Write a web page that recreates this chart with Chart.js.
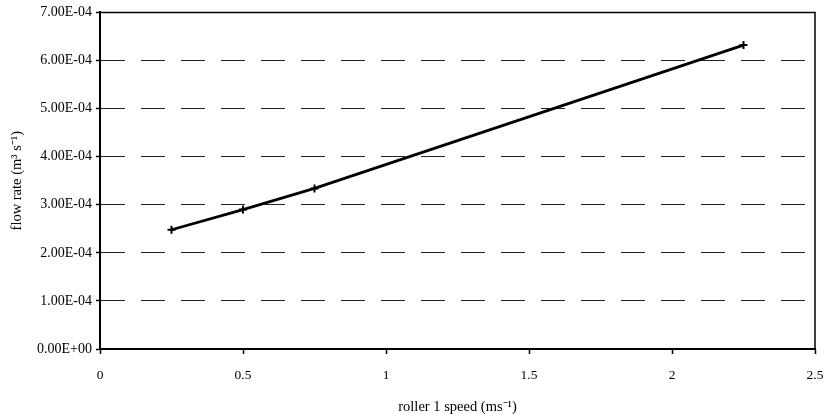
<!DOCTYPE html>
<html>
<head>
<meta charset="utf-8">
<script src="https://cdn.jsdelivr.net/npm/chart.js@4.4.1/dist/chart.umd.min.js"></script>
<style>
  html, body { margin: 0; padding: 0; background: #fff; }
  #wrap { width: 834px; height: 414px; }
</style>
</head>
<body>
<div id="wrap"><canvas id="c" width="834" height="414"></canvas></div>
<script>
// Data
const speeds = [0.25, 0.5, 0.75, 2.25];
const flowRates = [2.48e-4, 2.90e-4, 3.34e-4, 6.32e-4];
const xTickValues = [0, 0.5, 1, 1.5, 2, 2.5];
const xTickLabels = ['0', '0.5', '1', '1.5', '2', '2.5'];
const yTickValues = [0, 1e-4, 2e-4, 3e-4, 4e-4, 5e-4, 6e-4, 7e-4];
const yTickLabels = ['0.00E+00', '1.00E-04', '2.00E-04', '3.00E-04', '4.00E-04', '5.00E-04', '6.00E-04', '7.00E-04'];
const xTitle = 'roller 1 speed (ms\u207B\u00B9)';
const yTitle = 'flow rate (m\u00B3 s\u207B\u00B9)';

const points = speeds.map((s, i) => ({ x: s, y: flowRates[i] }));

function labelFor(values, labels, v) {
  for (let i = 0; i < values.length; i++) {
    if (Math.abs(values[i] - v) < 1e-9) return labels[i];
  }
  return '';
}

const frame = {
  id: 'frame',
  afterDraw(chart) {
    const { ctx, chartArea: a } = chart;
    ctx.save();
    ctx.strokeStyle = '#000';
    ctx.lineWidth = 1.5;
    ctx.beginPath();
    ctx.moveTo(a.left, a.top);
    ctx.lineTo(a.right, a.top);
    ctx.lineTo(a.right, a.bottom);
    ctx.stroke();
    ctx.restore();
  }
};

const fam = "'Liberation Serif', 'Times New Roman', serif";

new Chart(document.getElementById('c'), {
  type: 'scatter',
  data: {
    datasets: [{
      data: points,
      showLine: true,
      borderColor: '#000',
      borderWidth: 2.8,
      pointStyle: 'cross',
      pointRadius: 4,
      pointBorderWidth: 2,
      pointBorderColor: '#000',
      pointBackgroundColor: '#000',
      tension: 0
    }]
  },
  options: {
    responsive: false,
    animation: false,
    events: [],
    layout: { padding: { top: 12, right: 19, left: 0, bottom: 0 } },
    plugins: { legend: { display: false }, tooltip: { enabled: false } },
    scales: {
      x: {
        type: 'linear',
        min: 0, max: 2.5,
        afterBuildTicks: s => { s.ticks = xTickValues.map(v => ({ value: v })); },
        afterFit: s => { s.height = 65; s.paddingRight = 0; s.paddingLeft = 0; },
        ticks: {
          color: '#000', font: { family: fam, size: 13.5 }, padding: 13, maxRotation: 0,
          callback: v => labelFor(xTickValues, xTickLabels, v)
        },
        grid: { drawOnChartArea: false, drawTicks: true, tickLength: 5, tickColor: '#000', tickWidth: 1.5 },
        border: { display: true, color: '#000', width: 2 },
        title: { display: true, text: xTitle, color: '#000', font: { family: fam, size: 14.5, lineHeight: 1 }, padding: { top: 0, bottom: 0 } }
      },
      y: {
        type: 'linear',
        min: 0, max: 7e-4,
        afterBuildTicks: s => { s.ticks = yTickValues.map(v => ({ value: v })); },
        afterFit: s => { s.width = 100; },
        ticks: {
          color: '#000', font: { family: fam, size: 14 }, padding: 4,
          callback: v => labelFor(yTickValues, yTickLabels, v)
        },
        grid: { display: true, drawOnChartArea: true, drawTicks: true, tickLength: 4, color: '#222', lineWidth: 1, tickColor: '#000', tickWidth: 1.5 },
        border: { display: true, color: '#000', width: 2, dash: [24, 16], dashOffset: 0 },
        title: { display: true, text: yTitle, color: '#000', font: { family: fam, size: 14.5, lineHeight: 1 }, padding: { top: 10, bottom: 0 } }
      }
    }
  },
  plugins: [frame]
});
</script>
</body>
</html>
